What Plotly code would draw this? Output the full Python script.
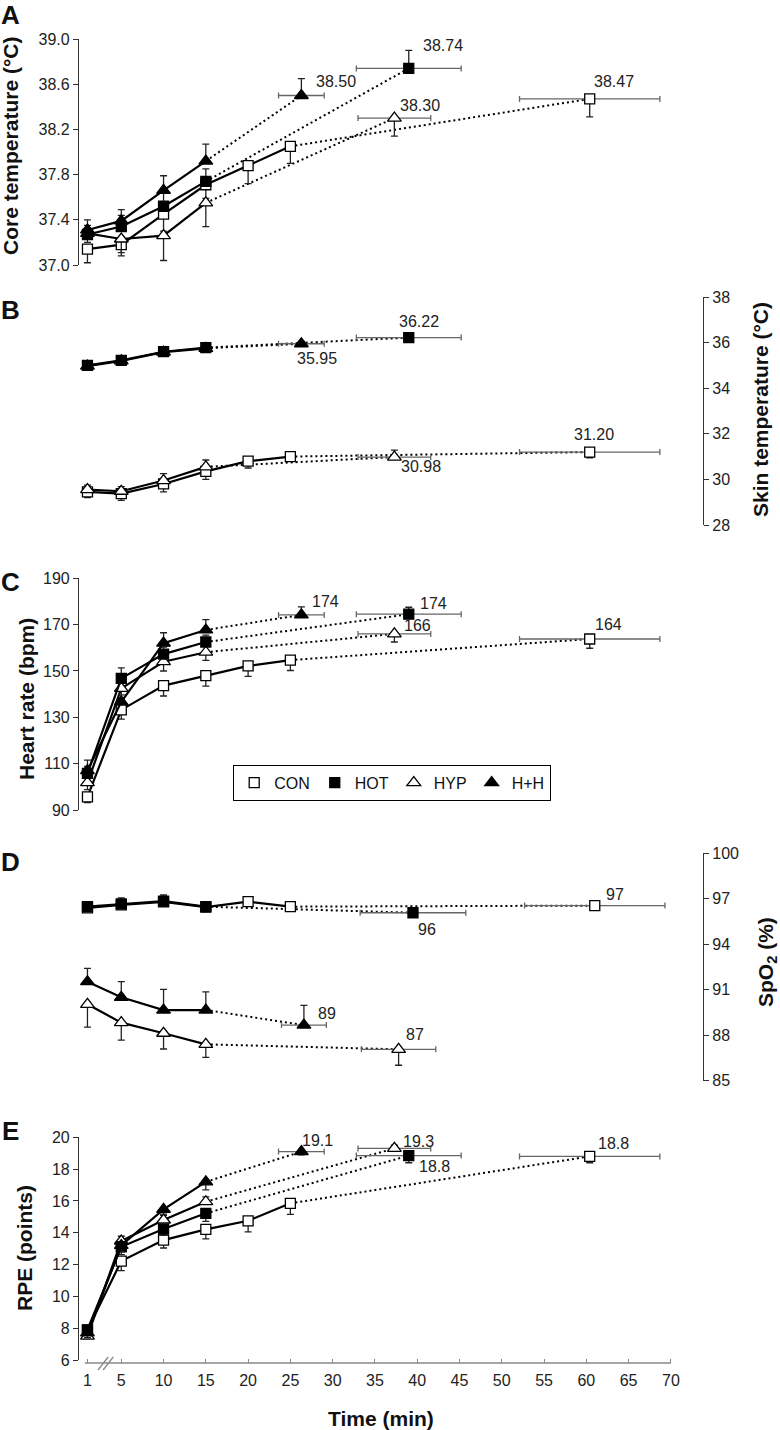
import plotly.graph_objects as go

W, H = 780, 1430

# ---------------- data ----------------
groups = ["CON", "HOT", "HYP", "H+H"]
time_con = [1, 5, 10, 15, 20, 25]
time_exp = [1, 5, 10, 15]
tte_mean = [60.4, 39.0, 37.3, 26.3]          # time to exhaustion (min) CON, HOT, HYP, H+H
tte_sd = [8.3, 6.2, 4.3, 2.7]
tte_mean_spo2 = [61.0, 39.5, 37.8, 26.6]
tte_sd_spo2 = [8.3, 6.25, 4.4, 2.65]
x_ticks = [1, 5, 10, 15, 20, 25, 30, 35, 40, 45, 50, 55, 60, 65, 70]

# A: core temperature (deg C)
core_con = [37.14, 37.18, 37.45, 37.71, 37.88, 38.05]
core_con_sd = [0.12, 0.10, 0.15, 0.12, 0.16, 0.15]
core_hot = [37.27, 37.34, 37.52, 37.74]
core_hot_sd = [0.08, 0.10, 0.12, 0.11]
core_hyp = [37.28, 37.23, 37.26, 37.55]
core_hyp_sd = [0.08, 0.12, 0.22, 0.21]
core_hh = [37.31, 37.39, 37.66, 37.92]
core_hh_sd = [0.09, 0.10, 0.13, 0.15]
core_end = [38.47, 38.74, 38.30, 38.50]
core_end_sd = [0.16, 0.16, 0.16, 0.15]
core_labels = ["38.47", "38.74", "38.30", "38.50"]
core_dir = [-1, 1, -1, 1]

# B: skin temperature (deg C)
skin_con = [29.45, 29.38, 29.80, 30.35, 30.80, 31.00]
skin_con_sd = [0.25, 0.30, 0.35, 0.35, 0.30, 0.15]
skin_hot = [35.00, 35.22, 35.60, 35.78]
skin_hot_sd = [0.10, 0.10, 0.10, 0.10]
skin_hyp = [29.55, 29.48, 29.95, 30.55]
skin_hyp_sd = [0.20, 0.20, 0.30, 0.30]
skin_hh = [34.97, 35.20, 35.58, 35.75]
skin_hh_sd = [0.10, 0.10, 0.10, 0.10]
skin_end = [31.20, 36.22, 30.98, 35.95]
skin_end_sd = [0.25, 0.10, 0.30, 0.10]
skin_labels = ["31.20", "36.22", "30.98", "35.95"]
skin_dir = [-1, 1, 1, 1]

# C: heart rate (bpm)
hr_con = [95.7, 133.2, 143.7, 148.0, 152.2, 154.7]
hr_con_sd = [2.5, 4.0, 4.5, 4.5, 4.5, 4.5]
hr_hot = [105.8, 146.8, 157.3, 162.5]
hr_hot_sd = [3.0, 4.5, 3.0, 3.0]
hr_hyp = [101.8, 142.5, 154.0, 158.1]
hr_hyp_sd = [3.0, 4.0, 4.0, 3.5]
hr_hh = [107.0, 136.7, 162.0, 167.7]
hr_hh_sd = [4.5, 3.0, 4.5, 4.5]
hr_end = [163.8, 174.5, 166.0, 174.2]
hr_end_sd = [4.0, 3.0, 3.5, 3.5]
hr_labels = ["164", "174", "166", "174"]
hr_dir = [-1, 1, -1, 1]

# D: SpO2 (%)
spo2_con = [96.40, 96.60, 96.80, 96.45, 96.81, 96.48]
spo2_con_sd = [0.30, 0.30, 0.30, 0.30, 0.20, 0.20]
spo2_hot = [96.48, 96.66, 96.85, 96.48]
spo2_hot_sd = [0.30, 0.40, 0.40, 0.30]
spo2_hyp = [90.04, 88.83, 88.13, 87.40]
spo2_hyp_sd = [1.50, 1.15, 1.04, 0.86]
spo2_hh = [91.53, 90.50, 89.66, 89.66]
spo2_hh_sd = [0.88, 1.03, 1.37, 1.20]
spo2_end = [96.55, 96.08, 87.07, 88.67]
spo2_end_sd = [0.20, 0.20, 1.05, 1.30]
spo2_labels = ["97", "96", "87", "89"]
spo2_dir = [-1, 1, -1, 1]

# E: RPE (points)
rpe_con = [7.88, 12.22, 13.54, 14.21, 14.75, 15.85]
rpe_con_sd = [0.50, 0.60, 0.50, 0.60, 0.70, 0.70]
rpe_hot = [7.90, 13.12, 14.23, 15.22]
rpe_hot_sd = [0.30, 0.50, 0.40, 0.50]
rpe_hyp = [7.50, 13.48, 14.80, 15.95]
rpe_hyp_sd = [0.30, 0.30, 0.30, 0.30]
rpe_hh = [7.70, 13.20, 15.47, 17.20]
rpe_hh_sd = [0.30, 0.40, 0.30, 0.50]
rpe_end = [18.80, 18.85, 19.30, 19.10]
rpe_end_sd = [0.40, 0.45, 0.20, 0.20]
rpe_labels = ["18.8", "18.8", "19.3", "19.1"]
rpe_dir = [-1, -1, 1, -1]

# ---------------- styling ----------------
FONT = "Liberation Sans, Arial, Helvetica, sans-serif"
symbols = ["square", "square", "triangle-up", "triangle-up"]
fills = ["white", "black", "white", "black"]
sizes = [10, 10, 12, 12]
draw_order = [0, 2, 1, 3]


def py2paper(py):
    return 1 - py / H


def px2paper(px):
    return px / W


fig = go.Figure()
annotations = []


def err_y(sd, d):
    zeros = [0] * len(sd)
    if d < 0:
        return dict(type="data", symmetric=False, array=zeros, arrayminus=sd,
                    color="#222", thickness=1.3, width=3.5)
    return dict(type="data", symmetric=False, array=sd, arrayminus=zeros,
                color="#222", thickness=1.3, width=3.5)


def add_panel(yax, series, sds, ends, end_sds, dirs, labels, offsets, tmean, tsd):
    times = [time_con, time_exp, time_exp, time_exp]
    # dotted extensions to exhaustion
    for i in draw_order:
        fig.add_trace(go.Scatter(
            x=[times[i][-1], tmean[i]], y=[series[i][-1], ends[i]],
            mode="lines", line=dict(color="black", width=2, dash="2px,3px"),
            xaxis="x", yaxis=yax, showlegend=False, hoverinfo="skip"))
    # main solid lines with markers
    for i in draw_order:
        fig.add_trace(go.Scatter(
            x=times[i], y=series[i], mode="lines+markers",
            line=dict(color="black", width=2.2),
            marker=dict(symbol=symbols[i], size=sizes[i], color=fills[i],
                        line=dict(color="black", width=1.3)),
            error_y=err_y(sds[i], dirs[i]),
            xaxis="x", yaxis=yax, showlegend=False, cliponaxis=False,
            name=groups[i]))
    # end points with time-to-exhaustion bars
    for i in draw_order:
        fig.add_trace(go.Scatter(
            x=[tmean[i]], y=[ends[i]], mode="markers",
            marker=dict(symbol=symbols[i], size=sizes[i], color=fills[i],
                        line=dict(color="black", width=1.3)),
            error_x=dict(type="data", array=[tsd[i]], color="#666",
                         thickness=1.3, width=3),
            error_y=err_y([end_sds[i]], dirs[i]),
            xaxis="x", yaxis=yax, showlegend=False, cliponaxis=False,
            name=groups[i]))
        dx, dy = offsets[i]
        annotations.append(dict(
            x=tmean[i], y=ends[i], xref="x", yref=yax, text=labels[i],
            showarrow=False, xanchor="left", yanchor="middle",
            xshift=dx, yshift=-dy, font=dict(size=16, color="#222", family=FONT)))


add_panel("y", [core_con, core_hot, core_hyp, core_hh],
          [core_con_sd, core_hot_sd, core_hyp_sd, core_hh_sd],
          core_end, core_end_sd, core_dir, core_labels,
          [(2, -17), (12, -23), (4, -13), (13, -14)], tte_mean, tte_sd)
add_panel("y2", [skin_con, skin_hot, skin_hyp, skin_hh],
          [skin_con_sd, skin_hot_sd, skin_hyp_sd, skin_hh_sd],
          skin_end, skin_end_sd, skin_dir, skin_labels,
          [(-18, -18), (-12, -16), (5, 9), (-6, 15)], tte_mean, tte_sd)
add_panel("y3", [hr_con, hr_hot, hr_hyp, hr_hh],
          [hr_con_sd, hr_hot_sd, hr_hyp_sd, hr_hh_sd],
          hr_end, hr_end_sd, hr_dir, hr_labels,
          [(3, -15), (9, -11), (8, -8), (9, -13)], tte_mean, tte_sd)
add_panel("y4", [spo2_con, spo2_hot, spo2_hyp, spo2_hh],
          [spo2_con_sd, spo2_hot_sd, spo2_hyp_sd, spo2_hh_sd],
          spo2_end, spo2_end_sd, spo2_dir, spo2_labels,
          [(9, -11), (3, 17), (5, -15), (12, -12)], tte_mean_spo2, tte_sd_spo2)
add_panel("y5", [rpe_con, rpe_hot, rpe_hyp, rpe_hh],
          [rpe_con_sd, rpe_hot_sd, rpe_hyp_sd, rpe_hh_sd],
          rpe_end, rpe_end_sd, rpe_dir, rpe_labels,
          [(6, -13), (8, 11), (7, -7), (-1, -11)], tte_mean, tte_sd)

# legend entries
for i in range(4):
    fig.add_trace(go.Scatter(
        x=[None], y=[None], mode="markers", name=groups[i],
        marker=dict(symbol=symbols[i], size=sizes[i], color=fills[i],
                    line=dict(color="black", width=1.3)),
        xaxis="x", yaxis="y3", showlegend=True))

# axis titles and panel letters
titles = [
    ("<b>Core temperature (°C)</b>", 11, 146, -90),
    ("<b>Skin temperature (°C)</b>", 761, 410, -90),
    ("<b>Heart rate (bpm)</b>", 26, 699, -90),
    ("<b>SpO<sub>2</sub> (%)</b>", 767, 962, -90),
    ("<b>RPE (points)</b>", 24, 1248, -90),
    ("<b>Time (min)</b>", 381, 1418, 0),
]
for txt, px, py, ang in titles:
    annotations.append(dict(x=px2paper(px), y=py2paper(py), xref="paper", yref="paper",
                            text=txt, showarrow=False, textangle=ang,
                            xanchor="center", yanchor="middle",
                            font=dict(size=21, color="#111", family=FONT)))
for letter, py in [("A", 15), ("B", 310), ("C", 582), ("D", 862), ("E", 1131)]:
    annotations.append(dict(x=px2paper(10), y=py2paper(py), xref="paper", yref="paper",
                            text="<b>%s</b>" % letter, showarrow=False,
                            xanchor="center", yanchor="middle",
                            font=dict(size=26, color="#111", family=FONT)))

xdom = [px2paper(79), px2paper(703)]
x_axis_py = 1363


def yaxis(top, bottom, rng, dtick, side="left", fmt=None):
    d = dict(domain=[py2paper(bottom), py2paper(top)], range=rng, dtick=dtick,
             tick0=rng[0], anchor="x", side=side, showline=True, linecolor="#333",
             linewidth=1.2, ticks="outside", ticklen=5, tickcolor="#333", tickwidth=1.2,
             showgrid=False, zeroline=False, tickfont=dict(size=16, color="#222"),
             fixedrange=True, automargin=False)
    if fmt:
        d["tickformat"] = fmt
    return d


fig.update_layout(
    template="none",
    width=W, height=H, margin=dict(l=0, r=0, t=0, b=0, pad=0, autoexpand=False),
    paper_bgcolor="white", plot_bgcolor="white",
    font=dict(family=FONT, size=16, color="#222"),
    xaxis=dict(domain=xdom, range=[0, 73.8], anchor="free", position=py2paper(x_axis_py),
               showline=False, showgrid=False, zeroline=False, ticks="inside",
               ticklen=4, tickcolor="#888", tickwidth=1.2, tickvals=x_ticks,
               tickfont=dict(size=16, color="#222"), ticklabelstandoff=6,
               automargin=False, fixedrange=True),
    yaxis=yaxis(39, 265, [37.0, 39.0], 0.4, fmt=".1f"),
    yaxis2=yaxis(297, 525, [28, 38], 2, side="right"),
    yaxis3=yaxis(578.3, 810, [90, 190], 20),
    yaxis4=yaxis(853.3, 1080.7, [85, 100], 3, side="right"),
    yaxis5=yaxis(1137.3, 1360, [6, 20], 2),
    showlegend=True,
    legend=dict(orientation="h", x=px2paper(392), y=py2paper(783),
                xanchor="center", yanchor="middle", bordercolor="black",
                borderwidth=1.2, bgcolor="white", font=dict(size=16, color="#111"),
                itemwidth=30, traceorder="normal"),
    annotations=annotations,
    shapes=[
        dict(type="line", xref="x", yref="paper", x0=0.7, x1=70,
             y0=py2paper(x_axis_py), y1=py2paper(x_axis_py),
             line=dict(color="#888", width=1.4)),
        dict(type="line", xref="x", yref="paper", x0=2.25, x1=3.45,
             y0=py2paper(1370), y1=py2paper(1357), line=dict(color="#888", width=1.3)),
        dict(type="line", xref="x", yref="paper", x0=2.85, x1=4.05,
             y0=py2paper(1370), y1=py2paper(1357), line=dict(color="#888", width=1.3)),
    ],
)

fig.write_html(
    "out.html",
    config={"displayModeBar": False},
    post_script="document.body.style.margin='0';document.body.style.overflow='hidden';",
)
